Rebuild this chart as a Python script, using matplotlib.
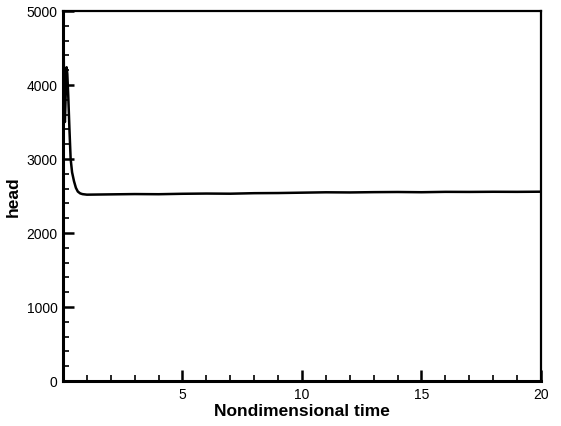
import matplotlib
matplotlib.use("Agg")
import matplotlib.pyplot as plt
from matplotlib.ticker import MultipleLocator

plt.rcParams["font.family"] = ["Liberation Sans", "DejaVu Sans"]

# Start-up transient
t_start = [0.0, 0.01, 0.03, 0.05, 0.08, 0.12, 0.15, 0.18, 0.22, 0.27, 0.32,
           0.38, 0.46, 0.54, 0.62, 0.72, 0.82, 0.95]
h_start = [1550, 3200, 4450, 3600, 3500, 3950, 4240, 4150, 3850, 3400, 3000,
           2820, 2700, 2610, 2560, 2535, 2525, 2520]

# Settled part, sampled once per unit time
t_steady = [1, 2, 3, 4, 5, 6, 7, 8, 9, 10, 11, 12, 13, 14, 15, 16, 17, 18, 19, 20]
h_steady = [2518, 2522, 2526, 2524, 2530, 2533, 2531, 2538, 2540, 2545, 2550,
            2548, 2552, 2554, 2551, 2556, 2555, 2557, 2556, 2558]

time = t_start + t_steady
head = h_start + h_steady

fig = plt.figure(figsize=(5.61, 4.27), dpi=100)
ax = fig.add_axes([0.1123, 0.1054, 0.852, 0.8665])

ax.plot(time, head, color="black", linewidth=1.8)

ax.set_xlim(0, 20)
ax.set_ylim(0, 5000)
ax.set_xticks([5, 10, 15, 20])
ax.xaxis.set_minor_locator(MultipleLocator(1))
ax.yaxis.set_major_locator(MultipleLocator(1000))
ax.yaxis.set_minor_locator(MultipleLocator(200))

ax.tick_params(which="both", direction="in", top=False, right=False,
               labelsize=10, width=1.2, pad=4)
ax.tick_params(which="major", length=8, width=1.8)
ax.tick_params(which="minor", length=4)

for side in ["left", "bottom"]:
    ax.spines[side].set_linewidth(2.2)
for side in ["top", "right"]:
    ax.spines[side].set_linewidth(1.6)

ax.set_xlabel("Nondimensional time", fontsize=12.5, fontweight="bold", labelpad=2)
ax.set_ylabel("head", fontsize=12.5, fontweight="bold", labelpad=4)

fig.savefig("out.png", dpi=100)
